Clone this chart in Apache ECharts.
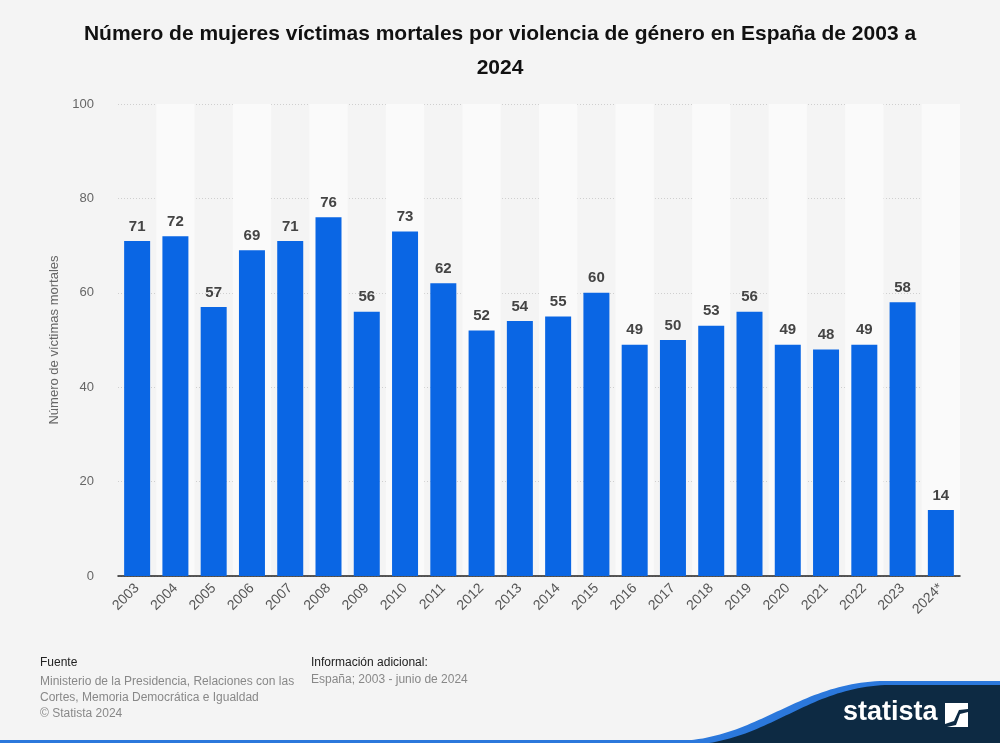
<!DOCTYPE html>
<html>
<head>
<meta charset="utf-8">
<script src="https://cdn.jsdelivr.net/npm/echarts@6/dist/echarts.min.js"></script>
<style>
html,body{margin:0;padding:0;background:#f4f4f4;}
#c{width:1000px;height:743px;}
</style>
</head>
<body>
<div id="c"></div>
<script>
const categories = ['2003','2004','2005','2006','2007','2008','2009','2010','2011','2012','2013','2014','2015','2016','2017','2018','2019','2020','2021','2022','2023','2024*'];
const victims = [71,72,57,69,71,76,56,73,62,52,54,55,60,49,50,53,56,49,48,49,58,14];
const yTicks = [0,20,40,60,80,100];

function curveShape(x0, y0, c1x, c1y, c2x, c2y, x1, y1) {
  const pts = [];
  for (let i = 0; i <= 50; i++) {
    const t = i / 50, u = 1 - t;
    pts.push([u*u*u*x0 + 3*u*u*t*c1x + 3*u*t*t*c2x + t*t*t*x1,
              u*u*u*y0 + 3*u*u*t*c1y + 3*u*t*t*c2y + t*t*t*y1]);
  }
  pts.push([1000, y1]); pts.push([1000, 743]); pts.push([x0, 743]);
  return pts;
}

const chart = echarts.init(document.getElementById('c'), null, {renderer:'canvas'});
const font = 'Liberation Sans, Arial, sans-serif';
chart.setOption({
  backgroundColor:'#f4f4f4',
  animation:false,
  title:{
    text:'Número de mujeres víctimas mortales por violencia de género en España de 2003 a\n2024',
    left:'center', top:12,
    textStyle:{fontFamily:font,fontSize:21,fontWeight:'bold',color:'#111',lineHeight:34}
  },
  grid:{left:118,right:40,top:104,bottom:167,containLabel:false},
  xAxis:{
    type:'category', data:categories,
    axisLine:{lineStyle:{color:'#222',width:1.5}},
    axisTick:{show:false},
    axisLabel:{rotate:45,color:'#555',fontFamily:font,fontSize:14,margin:10,interval:0},
    splitArea:{show:true,interval:0,areaStyle:{color:['rgba(0,0,0,0)','#fafafa']}}
  },
  yAxis:{
    type:'value', min:yTicks[0], max:yTicks[yTicks.length-1], interval:20,
    name:'Número de víctimas mortales', nameLocation:'middle', nameGap:57,
    nameTextStyle:{color:'#666',fontFamily:font,fontSize:13},
    axisLine:{show:false}, axisTick:{show:false},
    axisLabel:{color:'#666',fontFamily:font,fontSize:13,margin:24},
    splitLine:{lineStyle:{color:'#cfcfcf',type:[1,2]}}
  },
  series:[{
    type:'bar', data:victims, barWidth:26,
    itemStyle:{color:'#0a66e4'},
    label:{show:true,position:'top',distance:7,color:'#444',fontFamily:font,fontSize:15,fontWeight:'bold'}
  }],
  graphic:[
    {type:'text',x:40,y:657,style:{text:'Fuente',fill:'#222',font:'12px '+font}},
    {type:'text',x:40,y:674,style:{text:'Ministerio de la Presidencia, Relaciones con las\nCortes, Memoria Democrática e Igualdad\n© Statista 2024',fill:'#888',font:'12px '+font,lineHeight:16}},
    {type:'text',x:311,y:657,style:{text:'Información adicional:',fill:'#222',font:'12px '+font}},
    {type:'text',x:311,y:674,style:{text:'España; 2003 - junio de 2024',fill:'#888',font:'12px '+font}},
    {type:'rect',shape:{x:0,y:740,width:1000,height:3},style:{fill:'#2b78dc'},z:10},
    {type:'polygon',shape:{points:curveShape(680,741,760,737,800,682,885,681)},style:{fill:'#2b78dc'},z:9},
    {type:'polygon',shape:{points:curveShape(690,745,770,741,808,686,890,685)},style:{fill:'#0d2a43'},z:10},
    {type:'text',x:843,y:699,style:{text:'statista',fill:'#fff',font:'bold 27px '+font},z:11},
    {type:'polygon',shape:{points:[[945,703],[968,703],[968,709],[959,710],[954,721],[945,724]]},style:{fill:'#fff'},z:11},
    {type:'polygon',shape:{points:[[947,727],[956,725],[960,714],[968,712],[968,727]]},style:{fill:'#fff'},z:11}
  ]
});
</script>
</body>
</html>
